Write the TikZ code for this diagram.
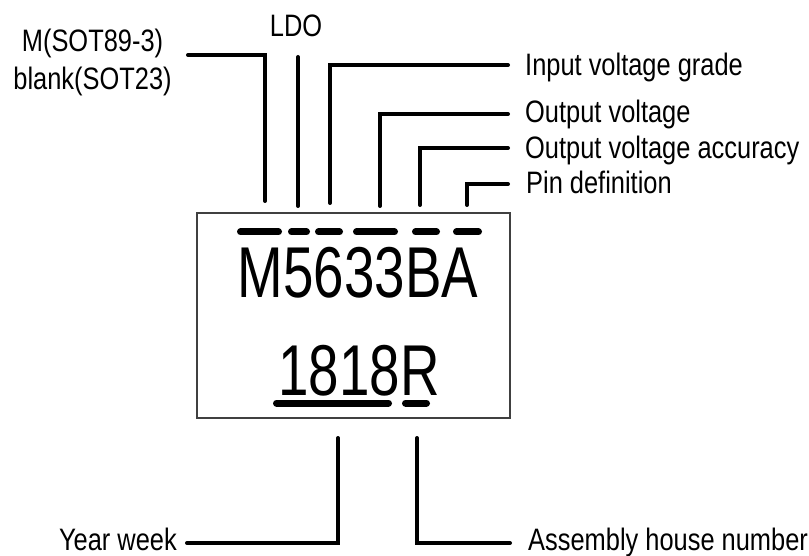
\documentclass[tikz,border=0pt]{standalone}
\usepackage{fontspec}
\newfontfamily\labfont[FakeStretch=0.82]{Liberation Sans}
\newfontfamily\chipfont[FakeStretch=0.76]{Liberation Sans}
\begin{document}
\begin{tikzpicture}[x=1pt,y=-1pt,
  lab/.style={inner sep=0pt,font=\labfont\fontsize{31}{36}\selectfont},
  conn/.style={line width=4pt,line cap=round,line join=miter},
  codebar/.style={line width=7pt,line cap=round},
  chiptext/.style={inner sep=0pt,font=\chipfont\fontsize{72}{80}\selectfont},
  chipbox/.style={draw=black!75,line width=1.2pt,fill=white,minimum width=313pt,minimum height=205pt,inner sep=0pt}]
\useasboundingbox[fill=white] (0,0) rectangle (809,556);
% package box
\node[chipbox] (chip) at (353.5,315.5) {};
\node[chiptext,anchor=base] (code) at (358,298) {M5633BA};
\node[chiptext,anchor=base] (date) at (359,395) {1818R};
% bars over the code
\foreach \a/\b in {237/282,288/310,315/343,353/398,412/440,453/482}
  \draw[codebar] (\a+3.5,232) -- (\b-3.5,232);
\draw[codebar] (276.5,403) -- (388.5,403);
\draw[codebar] (405.5,403) -- (426.5,403);
% labels
\node[lab,anchor=base] (pkg1) at (92.5,52) {M(SOT89-3)};
\node[lab,anchor=base] (pkg2) at (92.5,90) {blank(SOT23)};
\node[lab,anchor=base] (ldo) at (296,37) {LDO};
\node[lab,anchor=base west] (inv) at (525,76) {Input voltage grade};
\node[lab,anchor=base west] (outv) at (525,123) {Output voltage};
\node[lab,anchor=base west] (acc) at (525,159) {Output voltage accuracy};
\node[lab,anchor=base west] (pin) at (526,194) {Pin definition};
\node[lab,anchor=base east] (yw) at (177,550) {Year week};
\node[lab,anchor=base west] (asm) at (528,550) {Assembly house number};
% connector end points
\coordinate (c1a) at (188,55);  \coordinate (c1b) at (265,201);
\coordinate (c2a) at (298,57);  \coordinate (c2b) at (298,206);
\coordinate (c3a) at (508,65);  \coordinate (c3b) at (330,203);
\coordinate (c4a) at (508,114); \coordinate (c4b) at (380,206);
\coordinate (c5a) at (508,148); \coordinate (c5b) at (420,205);
\coordinate (c6a) at (508,184); \coordinate (c6b) at (467,205);
\coordinate (c7a) at (187,543); \coordinate (c7b) at (338,438);
\coordinate (c8a) at (510,543); \coordinate (c8b) at (417,438);
% connectors
\draw[conn] (c1a) -| (c1b);
\draw[conn] (c2a) -- (c2b);
\draw[conn] (c3a) -| (c3b);
\draw[conn] (c4a) -| (c4b);
\draw[conn] (c5a) -| (c5b);
\draw[conn] (c6a) -| (c6b);
\draw[conn] (c7a) -| (c7b);
\draw[conn] (c8a) -| (c8b);
\end{tikzpicture}
\end{document}
